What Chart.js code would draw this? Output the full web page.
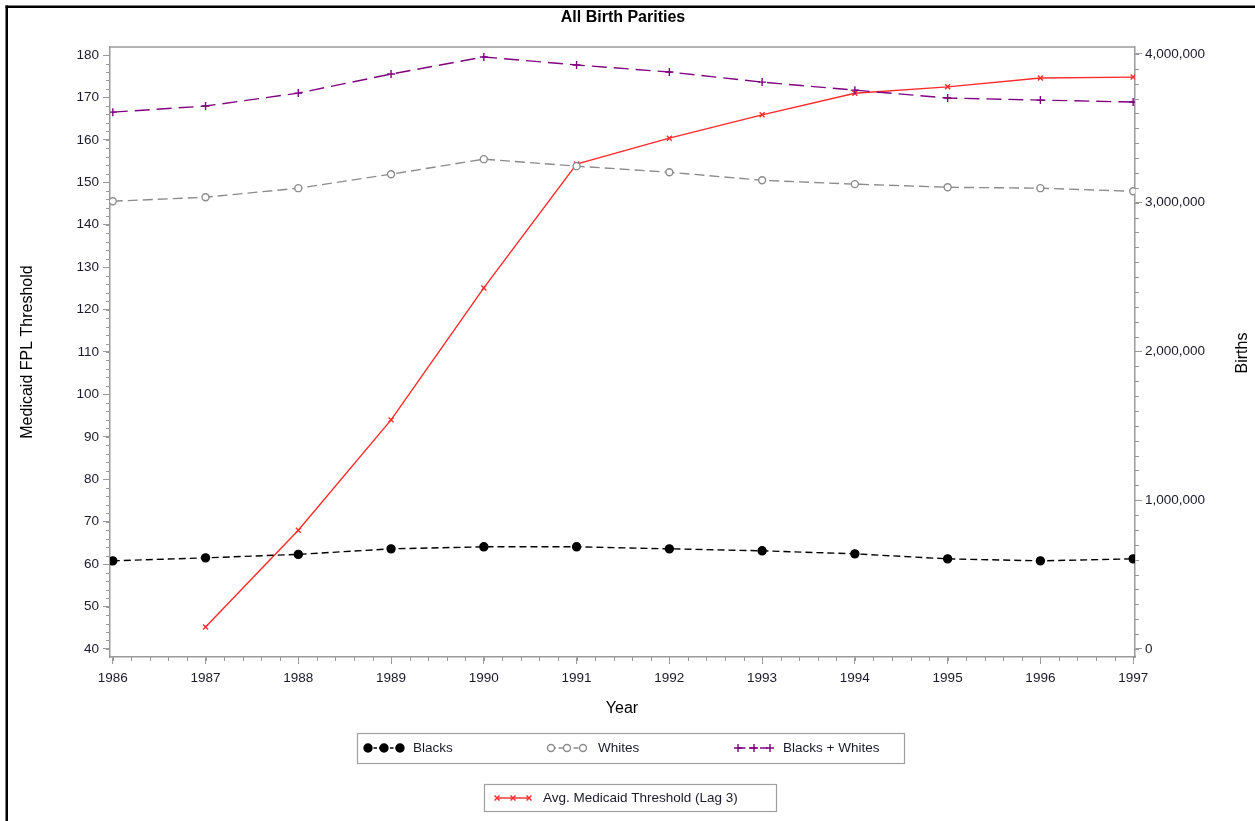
<!DOCTYPE html>
<html>
<head>
<meta charset="utf-8">
<script src="https://cdn.jsdelivr.net/npm/chart.js@4.4.1/dist/chart.umd.min.js"></script>
<style>
  html, body { margin: 0; padding: 0; background: #fff; }
  #chart-container { width: 1255px; height: 821px; position: relative; }
</style>
</head>
<body>
<div id="chart-container"><canvas id="chart-canvas"></canvas></div>
<script>
// data
const years = [1986, 1987, 1988, 1989, 1990, 1991, 1992, 1993, 1994, 1995, 1996, 1997];
const blacks = [592600, 612800, 636000, 673400, 686900, 686900, 673400, 660000, 639700, 606000, 592600, 606000];
const whites = [3010000, 3037000, 3098000, 3192000, 3293000, 3246000, 3205000, 3151000, 3125000, 3104000, 3098000, 3077000];
const blacksWhites = [3609000, 3650000, 3737000, 3865000, 3980000, 3926000, 3879000, 3811000, 3757000, 3704000, 3690000, 3677000];
const threshold = [null, 45.2, 68.0, 94.0, 125.1, 154.3, 160.4, 165.9, 171.0, 172.5, 174.6, 174.8];
const leftTicks = [40, 50, 60, 70, 80, 90, 100, 110, 120, 130, 140, 150, 160, 170, 180];
const rightTicks = [0, 1000000, 2000000, 3000000, 4000000];

const FONT = '"Liberation Sans", Arial, sans-serif';
const AXIS = '#9a9a9a';
const TEXT = '#1a1a2a';

const chartRef = document.getElementById('chart-canvas');

function pts(arr) {
  return years.map((y, i) => ({ x: y, y: arr[i] }));
}

const series = [
  { label: 'Blacks', data: blacks, color: '#000000', dash: [7, 4], style: 'circle', radius: 4, fill: '#000000', axis: 'y1' },
  { label: 'Whites', data: whites, color: '#8c8c8c', dash: [10, 5], style: 'circle', radius: 3.5, fill: '#ffffff', axis: 'y1' },
  { label: 'Blacks + Whites', data: blacksWhites, color: '#800080', dash: [15, 7], style: 'cross', radius: 4, fill: '#800080', axis: 'y1' },
  { label: 'Avg. Medicaid Threshold (Lag 3)', data: threshold, color: '#ff2a2a', dash: [], style: 'crossRot', radius: 3.5, fill: '#ff2a2a', axis: 'y' }
];

const datasets = series.map(s => ({
  label: s.label,
  data: pts(s.data),
  yAxisID: s.axis,
  borderColor: s.color,
  borderWidth: 1.4,
  borderDash: s.dash,
  pointStyle: s.style,
  pointRadius: s.radius,
  pointBackgroundColor: s.fill,
  pointBorderColor: s.color,
  pointBorderWidth: 1.4,
  fill: false,
  tension: 0,
  spanGaps: false
}));

function minorTicks(ctx, scale, step, from, to, len, vertical) {
  ctx.save();
  ctx.strokeStyle = AXIS;
  ctx.lineWidth = 1;
  ctx.beginPath();
  for (let v = from; v <= to + 1e-9; v += step) {
    const p = scale.getPixelForValue(v);
    if (vertical) {
      const x = scale.position === 'left' ? scale.right : scale.left;
      const d = scale.position === 'left' ? -len : len;
      ctx.moveTo(x, Math.round(p) + 0.5);
      ctx.lineTo(x + d, Math.round(p) + 0.5);
    } else {
      ctx.moveTo(Math.round(p) + 0.5, scale.top);
      ctx.lineTo(Math.round(p) + 0.5, scale.top + len);
    }
  }
  ctx.stroke();
  ctx.restore();
}

function legendSample(ctx, s, x0, y, n, gap) {
  ctx.save();
  ctx.strokeStyle = s.color;
  ctx.lineWidth = 1.4;
  ctx.setLineDash(s.dash.map(d => d * 0.5));
  ctx.beginPath();
  ctx.moveTo(x0, y);
  ctx.lineTo(x0 + gap * (n - 1), y);
  ctx.stroke();
  ctx.setLineDash([]);
  for (let i = 0; i < n; i++) {
    ctx.fillStyle = s.fill;
    ctx.strokeStyle = s.color;
    ctx.lineWidth = 1.4;
    Chart.helpers.drawPoint(ctx, { pointStyle: s.style, radius: s.radius, borderWidth: 1.4 }, x0 + gap * i, y);
  }
  ctx.restore();
}

const decorations = {
  id: 'decorations',
  afterDraw(chart) {
    const ctx = chart.ctx;
    const a = chart.chartArea;
    const sx = chart.scales.x, sy = chart.scales.y, sy1 = chart.scales.y1;

    minorTicks(ctx, sx, 0.2, 1986, 1997, 4, false);
    minorTicks(ctx, sy, 2, 40, 180, 4, true);
    minorTicks(ctx, sy1, 100000, 0, 4000000, 4, true);

    // top of plot frame
    ctx.save();
    ctx.strokeStyle = AXIS;
    ctx.lineWidth = 1.5;
    ctx.beginPath();
    ctx.moveTo(a.left, a.top);
    ctx.lineTo(a.right, a.top);
    ctx.stroke();

    // outer black frame (left and top)
    ctx.fillStyle = '#000';
    ctx.fillRect(5.5, 5.5, 1250, 2.5);
    ctx.fillRect(5.5, 5.5, 2.5, 816);

    // titles
    ctx.fillStyle = '#000';
    ctx.textAlign = 'center';
    ctx.textBaseline = 'middle';
    ctx.font = 'bold 16px ' + FONT;
    ctx.fillText('All Birth Parities', 623, 18);
    ctx.font = '16px ' + FONT;
    ctx.fillText('Year', 622, 709);
    ctx.save();
    ctx.translate(28, 352);
    ctx.rotate(-Math.PI / 2);
    ctx.fillText('Medicaid FPL Threshold', 0, 0);
    ctx.restore();
    ctx.save();
    ctx.translate(1243, 353);
    ctx.rotate(-Math.PI / 2);
    ctx.fillText('Births', 0, 0);
    ctx.restore();

    // legend boxes
    ctx.strokeStyle = '#a0a0a0';
    ctx.lineWidth = 1.2;
    ctx.strokeRect(357.5, 733.5, 547, 30);
    ctx.strokeRect(484.5, 784.5, 292, 27);
    ctx.restore();

    const rows = [
      { s: series[0], x: 368, y: 748, tx: 413 },
      { s: series[1], x: 551, y: 748, tx: 598 },
      { s: series[2], x: 738, y: 748, tx: 783 },
      { s: series[3], x: 497, y: 798, tx: 543 }
    ];
    rows.forEach(r => {
      legendSample(ctx, r.s, r.x, r.y, 3, 16);
      ctx.save();
      ctx.fillStyle = TEXT;
      ctx.font = '13.5px ' + FONT;
      ctx.textAlign = 'left';
      ctx.textBaseline = 'middle';
      ctx.fillText(r.s.label, r.tx, r.y);
      ctx.restore();
    });
  }
};

const tickFont = { family: FONT, size: 13.5 };

new Chart(chartRef, {
  type: 'line',
  data: { datasets },
  options: {
    responsive: true,
    maintainAspectRatio: false,
    animation: false,
    layout: { padding: { top: 47, left: 0, right: 0, bottom: 0 } },
    plugins: {
      legend: { display: false },
      title: { display: false },
      tooltip: { enabled: false }
    },
    scales: {
      x: {
        type: 'linear',
        min: 1985.97,
        max: 1997.02,
        afterBuildTicks: s => { s.ticks = years.map(v => ({ value: v })); },
        afterFit: s => { s.height = 164; },
        ticks: { callback: v => String(v), font: tickFont, color: TEXT, padding: 6, maxRotation: 0, autoSkip: false },
        grid: { drawOnChartArea: false, tickLength: 7, color: AXIS, lineWidth: 1 },
        border: { color: AXIS, width: 1.5 }
      },
      y: {
        type: 'linear',
        position: 'left',
        min: 38.11,
        max: 181.89,
        afterBuildTicks: s => { s.ticks = leftTicks.map(v => ({ value: v })); },
        afterFit: s => { s.width = 110; },
        ticks: { font: tickFont, color: TEXT, padding: 4 },
        grid: { drawOnChartArea: false, tickLength: 7, color: AXIS, lineWidth: 1 },
        border: { color: AXIS, width: 1.5 }
      },
      y1: {
        type: 'linear',
        position: 'right',
        min: -53800,
        max: 4047000,
        afterBuildTicks: s => { s.ticks = rightTicks.map(v => ({ value: v })); },
        afterFit: s => { s.width = 120; },
        ticks: { font: tickFont, color: TEXT, padding: 3, callback: v => v.toLocaleString('en-US') },
        grid: { drawOnChartArea: false, tickLength: 7, color: AXIS, lineWidth: 1 },
        border: { color: AXIS, width: 1.5 }
      }
    }
  },
  plugins: [decorations]
});
</script>
</body>
</html>
